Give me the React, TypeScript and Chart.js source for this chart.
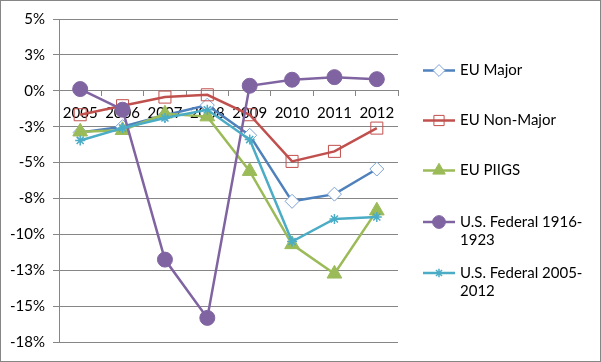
import React, { useEffect, useRef } from "react";
import { Chart, registerables } from "chart.js";

Chart.register(...registerables);

const years = ["2005", "2006", "2007", "2008", "2009", "2010", "2011", "2012"];
const euMajor = [-2.9, -2.5, -1.7, -1.0, -3.1, -7.7, -7.2, -5.45];
const euNonMajor = [-1.67, -1.04, -0.44, -0.28, -1.67, -4.92, -4.22, -2.6];
const euPiigs = [-2.85, -2.75, -1.6, -1.8, -5.6, -10.7, -12.75, -8.35];
const usFed1916 = [0.12, -1.32, -11.76, -15.82, 0.35, 0.77, 0.95, 0.81];
const usFed2005 = [-3.46, -2.6, -1.9, -1.32, -3.4, -10.5, -8.93, -8.79];
const seriesNames = ["EU Major", "EU Non-Major", "EU PIIGS", ["U.S. Federal 1916-", "1923"], ["U.S. Federal 2005-", "2012"]];

const FONT = "Lato";
const TEXT = "#000000";
const GRID = "#868686";

function drawMarker(ctx: CanvasRenderingContext2D, style: string, r: number, x: number, y: number) {
  ctx.beginPath();
  if (style === "rectRot") {
    ctx.moveTo(x, y - r);
    ctx.lineTo(x + r, y);
    ctx.lineTo(x, y + r);
    ctx.lineTo(x - r, y);
    ctx.closePath();
    ctx.fill();
    ctx.stroke();
  } else if (style === "rect") {
    const s = Math.SQRT1_2 * r;
    ctx.rect(x - s, y - s, 2 * s, 2 * s);
    ctx.fill();
    ctx.stroke();
  } else if (style === "triangle") {
    for (let k = 0; k < 3; k++) {
      const a = (k * 2 * Math.PI) / 3;
      const px = x + Math.sin(a) * r;
      const py = y - Math.cos(a) * r;
      if (k === 0) ctx.moveTo(px, py);
      else ctx.lineTo(px, py);
    }
    ctx.closePath();
    ctx.fill();
    ctx.stroke();
  } else if (style === "circle") {
    ctx.arc(x, y, r, 0, Math.PI * 2);
    ctx.fill();
    ctx.stroke();
  } else if (style === "star") {
    for (let k = 0; k < 4; k++) {
      const a = (k * Math.PI) / 4;
      ctx.moveTo(x + Math.cos(a) * r, y + Math.sin(a) * r);
      ctx.lineTo(x - Math.cos(a) * r, y - Math.sin(a) * r);
    }
    ctx.stroke();
  }
}

export default function App() {
  const ref = useRef<HTMLCanvasElement | null>(null);
  useEffect(() => {
    document.body.style.margin = "0";
    const canvas = ref.current!;
    const styles = [
      { color: "#4F81BD", point: "rectRot", radius: 7, fill: "#FFFFFF", border: "#7BA3D6", bw: 1 },
      { color: "#C0504D", point: "rect", radius: 8.5, fill: "rgba(255,255,255,0)", border: "#C0504D", bw: 1 },
      { color: "#9BBB59", point: "triangle", radius: 8.5, fill: "#9BBB59", border: "#9BBB59", bw: 1 },
      { color: "#8064A2", point: "circle", radius: 7.5, fill: "#8064A2", border: "#8064A2", bw: 1 },
      { color: "#4BACC6", point: "star", radius: 5, fill: "#4BACC6", border: "#4BACC6", bw: 1.5 },
    ];
    const values = [euMajor, euNonMajor, euPiigs, usFed1916, usFed2005];

    const legendPlugin = {
      id: "customLegend",
      afterDraw(chart: any) {
        const ctx: CanvasRenderingContext2D = chart.ctx;
        ctx.save();
        ctx.strokeStyle = GRID;
        ctx.lineWidth = 1;
        ctx.strokeRect(0.5, 0.5, chart.width - 1, chart.height - 1);
        const ys = [70.5, 120.5, 170.5, 222, 273];
        const lineX1 = 423, lineX2 = 455, textX = 460;
        ctx.font = `15px ${FONT}`;
        ctx.textBaseline = "middle";
        ctx.textAlign = "left";
        styles.forEach((s, i) => {
          const y = ys[i];
          ctx.strokeStyle = s.color;
          ctx.lineWidth = 2.5;
          ctx.beginPath();
          ctx.moveTo(lineX1, y);
          ctx.lineTo(lineX2, y);
          ctx.stroke();
          ctx.fillStyle = s.fill;
          ctx.strokeStyle = s.border;
          ctx.lineWidth = s.bw;
          drawMarker(ctx, s.point, s.radius * 0.85, (lineX1 + lineX2) / 2, y);
          ctx.fillStyle = TEXT;
          const name = seriesNames[i];
          const lines = Array.isArray(name) ? name : [name];
          lines.forEach((t, j) => ctx.fillText(t, textX, y + j * 18.5));
        });
        ctx.restore();
      },
    };

    const chart = new Chart(canvas, {
      type: "line",
      data: {
        labels: years,
        datasets: values.map((v, i) => ({
          label: Array.isArray(seriesNames[i]) ? (seriesNames[i] as string[]).join("") : (seriesNames[i] as string),
          data: v,
          borderColor: styles[i].color,
          borderWidth: 2.5,
          backgroundColor: styles[i].fill,
          pointStyle: styles[i].point as any,
          pointRadius: styles[i].radius,
          pointHoverRadius: styles[i].radius,
          pointBackgroundColor: styles[i].fill,
          pointBorderColor: styles[i].border,
          pointBorderWidth: styles[i].bw,
          tension: 0,
          fill: false,
          order: 5 - i,
        })),
      },
      options: {
        responsive: false,
        animation: false,
        events: [],
        layout: { padding: { left: 0, top: 19, right: 203, bottom: 20 } },
        plugins: { legend: { display: false }, tooltip: { enabled: false } },
        scales: {
          x: {
            type: "category",
            position: { y: 0 } as any,
            offset: true,
            grid: { display: true, drawOnChartArea: false, drawTicks: true, tickLength: 5, offset: true, color: GRID, lineWidth: 1 },
            border: { display: true, color: GRID, width: 1 },
            ticks: { color: TEXT, font: { family: FONT, size: 15 }, padding: 8, maxRotation: 0, autoSkip: false },
          },
          y: {
            type: "linear",
            min: -17.5,
            max: 5,
            afterFit: (scale: any) => { scale.width = 59; },
            grid: { color: GRID, lineWidth: 1, tickLength: 6, drawTicks: true },
            border: { display: true, color: GRID, width: 1 },
            ticks: {
              stepSize: 2.5,
              padding: 8,
              color: TEXT,
              font: { family: FONT, size: 15 },
              callback: (v: any) => {
                const n = Number(v);
                const r = Math.sign(n) * Math.round(Math.abs(n) + 1e-9);
                return `${r === 0 ? 0 : r}%`;
              },
            },
          },
        },
      },
      plugins: [legendPlugin],
    });
    return () => chart.destroy();
  }, []);
  return (
    <div style={{ width: 601, height: 362, background: "#fff" }}>
      <canvas ref={ref} width={601} height={362} style={{ display: "block" }} />
    </div>
  );
}
